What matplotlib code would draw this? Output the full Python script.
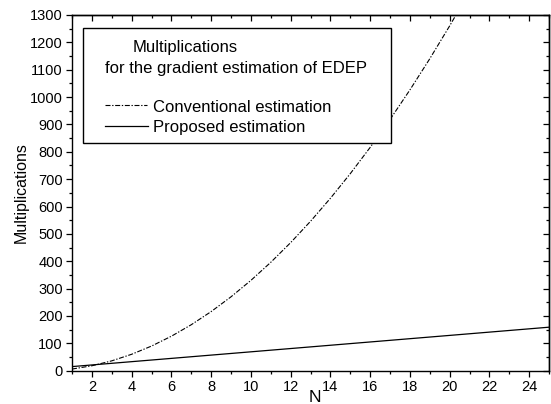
import matplotlib
matplotlib.use("Agg")
import matplotlib.pyplot as plt
from matplotlib.ticker import MultipleLocator
from matplotlib.lines import Line2D
from matplotlib.patches import Rectangle

plt.rcParams['font.family'] = ['Liberation Sans', 'DejaVu Sans']

# Data
n_values = [1, 2, 3, 4, 5, 6, 7, 8, 9, 10, 11, 12, 13, 14, 15, 16, 17, 18, 19, 20, 21,
            22, 23, 24, 25]
conventional = [6, 18, 36, 60, 90, 126, 168, 216, 270, 330, 396, 468, 546, 630, 720,
                816, 918, 1026, 1140, 1260, 1386, 1518, 1656, 1800, 1950]
proposed = [15, 21, 27, 33, 39, 45, 51, 57, 63, 69, 75, 81, 87, 93, 99, 105, 111,
            117, 123, 129, 135, 141, 147, 153, 159]
x_ticks = [2, 4, 6, 8, 10, 12, 14, 16, 18, 20, 22, 24]
y_ticks = list(range(0, 1301, 100))

fig = plt.figure(figsize=(5.51, 4.04), dpi=100)
ax = fig.add_axes([72/551, 1-370.7/404, (549-72)/551, (370.7-15)/404])

conv_style = (0, (4.5, 1.5, 1.2, 1.5))
ax.plot(n_values, conventional, color='black', lw=0.8, linestyle=conv_style)
ax.plot(n_values, proposed, color='black', lw=0.9, linestyle='-')

ax.set_xlim(1, 25)
ax.set_ylim(0, 1300)
ax.set_xticks(x_ticks)
ax.set_yticks(y_ticks)
ax.xaxis.set_minor_locator(MultipleLocator(1))
ax.yaxis.set_minor_locator(MultipleLocator(50))
ax.tick_params(which='major', direction='out', length=4.5, width=0.9, labelsize=10.5,
               pad=2)
ax.tick_params(which='minor', direction='out', length=2.5, width=0.9)
for s in ax.spines.values():
    s.set_linewidth(1.0)

sx = ax.secondary_xaxis('top')
sx.set_xticks(x_ticks)
sx.xaxis.set_minor_locator(MultipleLocator(1))
sx.tick_params(which='major', direction='in', length=4.5, width=0.9, labeltop=False)
sx.tick_params(which='minor', direction='in', length=2.5, width=0.9)
sx.spines['top'].set_linewidth(1.0)

sy = ax.secondary_yaxis('right')
sy.set_yticks(y_ticks)
sy.yaxis.set_minor_locator(MultipleLocator(50))
sy.tick_params(which='major', direction='in', length=4.5, width=0.9, labelright=False)
sy.tick_params(which='minor', direction='in', length=2.5, width=0.9)
sy.spines['right'].set_linewidth(1.0)

ax.set_xlabel('N', fontsize=12.5)
ax.xaxis.set_label_coords((315-72)/(549-72), -(397-370.7)/(370.7-15))
ax.xaxis.label.set_va('center')
ax.set_ylabel('Multiplications', fontsize=11.5)
ax.yaxis.set_label_coords((21-72)/(549-72), 0.5)
ax.yaxis.label.set_va('center')

# Legend box drawn in axes coordinates
def ax_xy(px, py):
    return ((px-72)/(549-72), (370.7-py)/(370.7-15))

x0, y0 = ax_xy(83.3, 143.3)
x1, y1 = ax_xy(391, 28.3)
ax.add_patch(Rectangle((x0, y0), x1-x0, y1-y0, transform=ax.transAxes,
                       facecolor='white', edgecolor='black', lw=1.0, zorder=5))
tx, ty = ax_xy(133, 51.7)
ax.text(tx, ty, 'Multiplications', transform=ax.transAxes, fontsize=12,
        ha='left', va='baseline', zorder=6)
tx, ty = ax_xy(105, 73.3)
ax.text(tx, ty, 'for the gradient estimation of EDEP', transform=ax.transAxes,
        fontsize=12, ha='left', va='baseline', zorder=6)

lx0, ly = ax_xy(105, 105.5)
lx1, _ = ax_xy(147, 105.5)
ax.add_line(Line2D([lx0, lx1], [ly, ly], transform=ax.transAxes, color='black',
                   lw=0.8, linestyle=conv_style, zorder=6))
tx, tyb = ax_xy(152.7, 112.3)
ax.text(tx, tyb, 'Conventional estimation', transform=ax.transAxes, fontsize=12,
        ha='left', va='baseline', zorder=6)

_, ly2 = ax_xy(105, 126.5)
lx1b, _ = ax_xy(148, 126.5)
ax.add_line(Line2D([lx0, lx1b], [ly2, ly2], transform=ax.transAxes, color='black',
                   lw=0.9, linestyle='-', zorder=6))
_, tyb2 = ax_xy(152.7, 131.7)
ax.text(tx, tyb2, 'Proposed estimation', transform=ax.transAxes, fontsize=12,
        ha='left', va='baseline', zorder=6)

fig.savefig('out.png', dpi=100)
